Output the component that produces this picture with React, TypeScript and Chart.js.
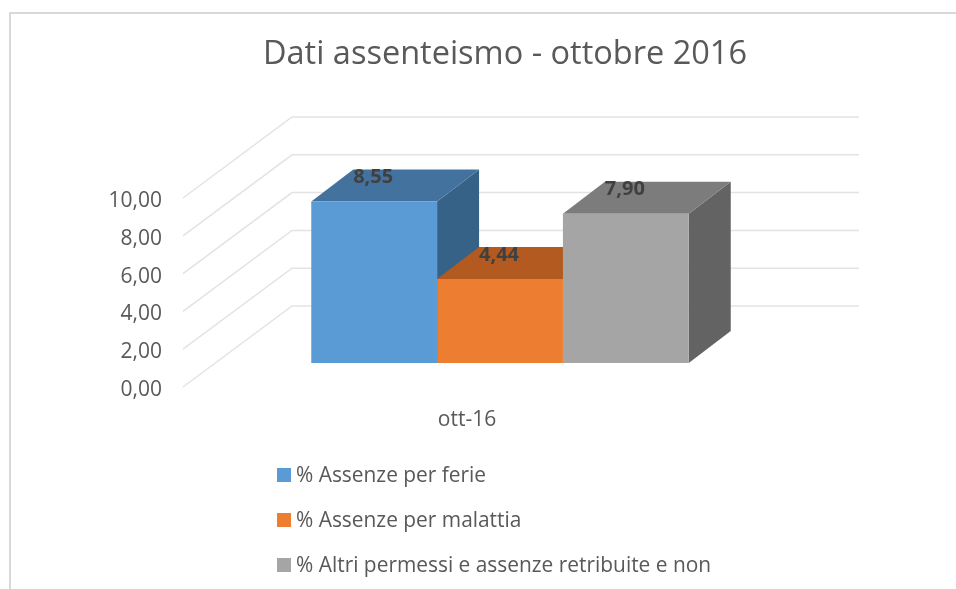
import React, { useEffect, useRef } from "react";
import { Chart, registerables } from "chart.js";

Chart.register(...registerables);

const categories = ["ott-16"];
const seriesNames = [
  "% Assenze per ferie",
  "% Assenze per malattia",
  "% Altri permessi e assenze retribuite e non",
];
const ferie = [8.55];
const malattia = [4.44];
const altri = [7.9];
const seriesValues = [ferie, malattia, altri];
const frontColors = ["#5B9BD5", "#ED7D31", "#A5A5A5"];
const topColors = ["#44729F", "#B25A1F", "#7C7C7C"];
const sideColors = ["#376287", "#B25A1F", "#636363"];
const titleText = "Dati assenteismo - ottobre 2016";

const FONT = "'Open Sans', sans-serif";
const TEXT = "#595959";
const GRID = "#E3E3E3";
const DX = 42;
const DY = 32;

const fmt = (v: number) => v.toFixed(2).replace(".", ",");

const poly = (ctx: CanvasRenderingContext2D, pts: number[][], color: string) => {
  ctx.beginPath();
  pts.forEach(([x, y], i) => (i ? ctx.lineTo(x, y) : ctx.moveTo(x, y)));
  ctx.closePath();
  ctx.fillStyle = color;
  ctx.fill();
};

const frame3d = {
  id: "frame3d",
  afterLayout(chart: any) {
    const t = chart.titleBlock;
    t.left = 0;
    t.right = 1010;
  },
  beforeDatasetsDraw(chart: any) {
    const { ctx, chartArea: a, scales } = chart;
    ctx.save();
    // outer frame
    ctx.strokeStyle = "#D9D9D9";
    ctx.lineWidth = 2;
    ctx.beginPath();
    ctx.moveTo(10, 589);
    ctx.lineTo(10, 13);
    ctx.lineTo(956, 13);
    ctx.stroke();
    // walls
    ctx.strokeStyle = GRID;
    ctx.lineWidth = 1.5;
    scales.y.ticks.forEach((tk: any) => {
      const y = scales.y.getPixelForValue(tk.value);
      ctx.beginPath();
      ctx.moveTo(a.left - 33, y + 24);
      ctx.lineTo(a.left + 76, y - 57);
      ctx.lineTo(a.right + 75, y - 57);
      ctx.stroke();
    });
    // depth faces, left to right
    chart.data.datasets.forEach((_: any, i: number) => {
      chart.getDatasetMeta(i).data.forEach((b: any) => {
        const l = b.x - b.width / 2;
        const r = b.x + b.width / 2;
        const t = b.y;
        const base = b.base;
        poly(ctx, [[r, t], [r + DX, t - DY], [r + DX, base - DY], [r, base]], sideColors[i]);
        poly(ctx, [[l, t], [l + DX, t - DY], [r + DX, t - DY], [r, t]], topColors[i]);
      });
    });
    ctx.restore();
  },
  afterDatasetsDraw(chart: any) {
    const { ctx } = chart;
    ctx.save();
    // data labels
    ctx.font = `bold 20px ${FONT}`;
    ctx.fillStyle = "#404040";
    ctx.textAlign = "center";
    ctx.textBaseline = "middle";
    chart.data.datasets.forEach((ds: any, i: number) => {
      chart.getDatasetMeta(i).data.forEach((b: any, j: number) => {
        ctx.fillText(fmt(ds.data[j]), b.x - 1, b.y - 24);
      });
    });
    // legend
    ctx.font = `20.9px ${FONT}`;
    ctx.textAlign = "left";
    chart.data.datasets.forEach((ds: any, i: number) => {
      const cy = 475 + i * 45;
      ctx.fillStyle = ds.backgroundColor;
      ctx.fillRect(277, cy - 7, 14, 14);
      ctx.fillStyle = TEXT;
      ctx.fillText(ds.label, 296, cy + 1);
    });
    ctx.restore();
  },
};

export default function App() {
  const ref = useRef<HTMLCanvasElement>(null);
  useEffect(() => {
    const chart = new Chart(ref.current!, {
      type: "bar",
      data: {
        labels: categories,
        datasets: seriesNames.map((label, i) => ({
          label,
          data: seriesValues[i],
          backgroundColor: frontColors[i],
          borderWidth: 0,
          barPercentage: 1,
          categoryPercentage: 377.5 / 568,
        })),
      },
      plugins: [frame3d],
      options: {
        responsive: false,
        animation: false,
        layout: { padding: { left: 0, right: 172, top: 0, bottom: 156 } },
        plugins: {
          legend: { display: false },
          tooltip: { enabled: false },
          title: {
            display: true,
            text: titleText,
            color: TEXT,
            font: { family: FONT, size: 32.5, weight: "normal", lineHeight: 1.2 },
            padding: { top: 35, bottom: 100 },
          },
        },
        scales: {
          x: {
            afterFit: (s: any) => { s.height = 70; },
            grid: { display: false, drawTicks: false },
            border: { display: false },
            ticks: {
              padding: 44,
              labelOffset: -33,
              color: TEXT,
              font: { family: FONT, size: 21 },
            },
          },
          y: {
            min: 0,
            max: 10,
            afterFit: (s: any) => { s.width = 216; },
            grid: { display: false, drawTicks: false },
            border: { display: false },
            ticks: {
              stepSize: 2,
              padding: 54,
              labelOffset: 27,
              color: TEXT,
              font: { family: FONT, size: 21 },
              callback: (v: any) => fmt(Number(v)),
            },
          },
        },
      },
    } as any);
    return () => chart.destroy();
  }, []);
  return (
    <div style={{ position: "fixed", left: 0, top: 0, width: 956, height: 589, background: "#fff" }}>
      <canvas ref={ref} width={956} height={589} style={{ display: "block" }} />
    </div>
  );
}
